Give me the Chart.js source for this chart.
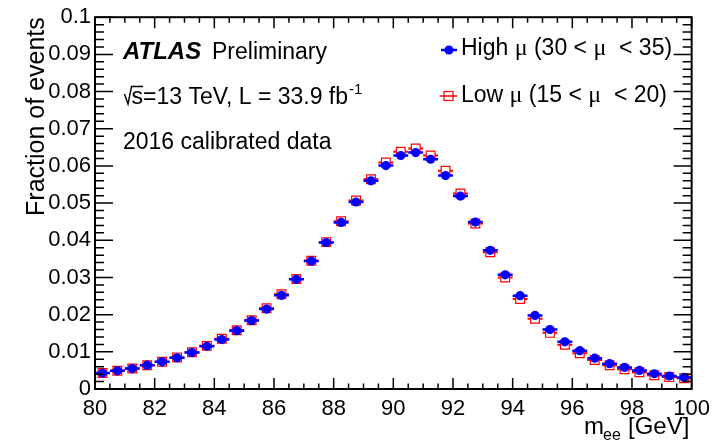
<!DOCTYPE html>
<html lang="en">
  <head>
    <meta charset="UTF-8" />
    <title>Z peak: high vs low pile-up</title>
    <script src="https://cdn.jsdelivr.net/npm/chart.js"></script>
    <style>
      html, body { margin: 0; padding: 0; background: #ffffff; }
      #wrap { width: 717px; height: 442px; position: relative; }
    </style>
  </head>
  <body>
    <div id="wrap">
      <canvas id="zeeChart" width="717" height="442"></canvas>
    </div>

    <script>
      // bin centres of the m_ee histogram [GeV], 0.5 GeV wide bins
      const massBins = [
        80.25, 80.75, 81.25, 81.75, 82.25, 82.75, 83.25, 83.75, 84.25, 84.75,
        85.25, 85.75, 86.25, 86.75, 87.25, 87.75, 88.25, 88.75, 89.25, 89.75,
        90.25, 90.75, 91.25, 91.75, 92.25, 92.75, 93.25, 93.75, 94.25, 94.75,
        95.25, 95.75, 96.25, 96.75, 97.25, 97.75, 98.25, 98.75, 99.25, 99.75,
      ];
      const binHalfWidth = 0.25;

      // High mu (30 < mu < 35)
      const highMu = [
        0.0043, 0.0049, 0.0055, 0.0064, 0.0073, 0.0084, 0.0098, 0.0115, 0.0133, 0.0157,
        0.0184, 0.0215, 0.0252, 0.0295, 0.0344, 0.0394, 0.0448, 0.0503, 0.0560, 0.0601,
        0.0628, 0.0636, 0.0618, 0.0574, 0.0519, 0.0449, 0.0373, 0.0307, 0.0251, 0.0198,
        0.0160, 0.0127, 0.0103, 0.0083, 0.0068, 0.0058, 0.0050, 0.0041, 0.0035, 0.0031,
      ];

      // Low mu (15 < mu < 20)
      const lowMu = [
        0.0043, 0.0049, 0.0055, 0.0064, 0.0073, 0.0085, 0.0099, 0.0116, 0.0135, 0.0158,
        0.0185, 0.0217, 0.0255, 0.0296, 0.0345, 0.0395, 0.0451, 0.0507, 0.0564, 0.0609,
        0.0638, 0.0647, 0.0628, 0.0587, 0.0526, 0.0445, 0.0368, 0.0300, 0.0242, 0.0189,
        0.0151, 0.0119, 0.0096, 0.0078, 0.0064, 0.0053, 0.0045, 0.0037, 0.0032, 0.0029,
      ];

      const xRange = [80, 100];
      const yRange = [0, 0.1];
      const xStep = 2;
      const yStep = 0.01;

      const BLUE = "#0000ff";
      const RED = "#ff0000";
      const SANS = "'Liberation Sans', Arial, Helvetica, sans-serif";
      const SERIF = "'Liberation Serif', 'Times New Roman', serif";

      function toPoints(ys) {
        return massBins.map((x, i) => ({ x: x, y: ys[i] }));
      }

      function drawBars(chart, ys, color, width) {
        const ctx = chart.ctx;
        const xs = chart.scales.x, sy = chart.scales.y;
        ctx.save();
        ctx.strokeStyle = color;
        ctx.lineWidth = width;
        ctx.beginPath();
        massBins.forEach((m, i) => {
          const py = sy.getPixelForValue(ys[i]);
          ctx.moveTo(xs.getPixelForValue(m - binHalfWidth), py);
          ctx.lineTo(xs.getPixelForValue(m + binHalfWidth), py);
        });
        ctx.stroke();
        ctx.restore();
      }

      // draws a run of text pieces one after another, returns end x
      function drawRuns(ctx, runs, x, y) {
        runs.forEach((r) => {
          ctx.font = r.font;
          ctx.fillText(r.t, x, y + (r.dy || 0));
          x += ctx.measureText(r.t).width;
        });
        return x;
      }

      const errorBars = {
        id: "errorBars",
        beforeDatasetDraw(chart, args) {
          if (args.index === 1) drawBars(chart, lowMu, RED, 2);
        },
        afterDatasetDraw(chart, args) {
          // blue bars sit above the red squares but below the blue dots
          if (args.index === 1) drawBars(chart, highMu, BLUE, 2.5);
        },
      };

      const frameAndText = {
        id: "frameAndText",
        afterDraw(chart) {
          const ctx = chart.ctx;
          const ca = chart.chartArea;
          const xs = chart.scales.x, sy = chart.scales.y;
          ctx.save();

          // frame
          ctx.strokeStyle = "#000";
          ctx.lineWidth = 2;
          ctx.strokeRect(ca.left, ca.top, ca.right - ca.left, ca.bottom - ca.top);

          // inward ticks on all four sides
          ctx.lineWidth = 1.5;
          ctx.beginPath();
          for (let i = 0; i <= 40; i++) {
            const px = xs.getPixelForValue(xRange[0] + i * 0.5);
            const len = i % 4 === 0 ? 11 : 5.5;
            ctx.moveTo(px, ca.bottom); ctx.lineTo(px, ca.bottom - len);
            ctx.moveTo(px, ca.top); ctx.lineTo(px, ca.top + len);
          }
          for (let i = 0; i <= 50; i++) {
            const py = sy.getPixelForValue(yRange[0] + i * 0.002);
            const len = i % 5 === 0 ? 18 : 9;
            ctx.moveTo(ca.left, py); ctx.lineTo(ca.left + len, py);
            ctx.moveTo(ca.right, py); ctx.lineTo(ca.right - len, py);
          }
          ctx.stroke();

          ctx.fillStyle = "#000";
          ctx.textAlign = "left";
          ctx.textBaseline = "alphabetic";

          // ATLAS label block
          ctx.font = "italic bold 24px " + SANS;
          ctx.fillText("ATLAS", 123, 59);
          ctx.font = "23px " + SANS;
          ctx.fillText("Preliminary", 212, 59);

          // sqrt sign drawn as a radical over the s
          ctx.lineWidth = 1.4;
          ctx.beginPath();
          ctx.moveTo(124.5, 94);
          ctx.lineTo(128, 104);
          ctx.lineTo(131.5, 86.5);
          ctx.lineTo(143, 86.5);
          ctx.stroke();
          let ex = drawRuns(ctx, [
            { t: "s=13 TeV, L = 33.9 fb", font: "23px " + SANS },
          ], 131.5, 104);
          drawRuns(ctx, [{ t: "-1", font: "15px " + SANS, dy: -10 }], ex + 1, 104);

          ctx.font = "23px " + SANS;
          ctx.fillText("2016 calibrated data", 123, 149);

          // legend
          ctx.strokeStyle = BLUE;
          ctx.lineWidth = 2.5;
          ctx.beginPath();
          ctx.moveTo(441, 50); ctx.lineTo(457, 50);
          ctx.stroke();
          ctx.fillStyle = BLUE;
          ctx.beginPath();
          ctx.arc(449, 50, 4.5, 0, Math.PI * 2);
          ctx.fill();

          ctx.fillStyle = "#fff";
          ctx.fillRect(444, 91.5, 9, 9);
          ctx.strokeStyle = RED;
          ctx.lineWidth = 1.2;
          ctx.strokeRect(444, 91.5, 9, 9);
          ctx.lineWidth = 1.5;
          ctx.beginPath();
          ctx.moveTo(440, 96); ctx.lineTo(457, 96);
          ctx.stroke();

          ctx.fillStyle = "#000";
          const lg = "23px " + SANS, mu = "24px " + SERIF;
          drawRuns(ctx, [
            { t: "High ", font: lg }, { t: "\u03bc", font: mu },
            { t: " (30 < ", font: lg }, { t: "\u03bc", font: mu },
            { t: "  < 35)", font: lg },
          ], 461, 55);
          drawRuns(ctx, [
            { t: "Low ", font: lg }, { t: "\u03bc", font: mu },
            { t: " (15 < ", font: lg }, { t: "\u03bc", font: mu },
            { t: "  < 20)", font: lg },
          ], 461, 102);

          // axis titles
          ctx.font = "24px " + SANS;
          ctx.fillText("m", 584, 434);
          ctx.font = "16px " + SANS;
          ctx.fillText("ee", 603, 440);
          ctx.font = "24px " + SANS;
          ctx.fillText("[GeV]", 628, 434);

          ctx.save();
          ctx.translate(43.5, ca.top);
          ctx.rotate(-Math.PI / 2);
          ctx.textAlign = "right";
          ctx.font = "25px " + SANS;
          ctx.fillText("Fraction of events", 0, 0);
          ctx.restore();

          ctx.restore();
        },
      };

      const ctx = document.getElementById("zeeChart").getContext("2d");
      new Chart(ctx, {
        type: "scatter",
        data: {
          datasets: [
            {
              label: "High \u03bc (30 < \u03bc < 35)",
              data: toPoints(highMu),
              pointStyle: "circle",
              pointRadius: 4.6,
              pointHoverRadius: 4.6,
              backgroundColor: BLUE,
              borderColor: BLUE,
              borderWidth: 0,
              order: 1,
            },
            {
              label: "Low \u03bc (15 < \u03bc < 20)",
              data: toPoints(lowMu),
              pointStyle: "rect",
              pointRadius: 6.2,
              pointHoverRadius: 6.2,
              backgroundColor: "#ffffff",
              borderColor: RED,
              borderWidth: 1.2,
              order: 2,
            },
          ],
        },
        options: {
          responsive: false,
          animation: false,
          devicePixelRatio: 1,
          layout: { padding: { top: 13, right: 22, left: 0, bottom: 0 } },
          plugins: {
            legend: { display: false },
            tooltip: { enabled: false },
          },
          scales: {
            x: {
              type: "linear",
              min: xRange[0],
              max: xRange[1],
              grid: { display: false, drawTicks: false },
              border: { display: false },
              ticks: {
                stepSize: xStep,
                autoSkip: false,
                maxRotation: 0,
                padding: 7,
                color: "#000",
                font: { family: SANS, size: 22 },
              },
              afterFit(s) { s.height = 53; },
            },
            y: {
              min: yRange[0],
              max: yRange[1],
              grid: { display: false, drawTicks: false },
              border: { display: false },
              ticks: {
                stepSize: yStep,
                autoSkip: false,
                padding: 4,
                color: "#000",
                font: { family: SANS, size: 22 },
                callback: (v) => String(parseFloat(v.toFixed(3))),
              },
              afterFit(s) { s.width = 95; },
            },
          },
        },
        plugins: [errorBars, frameAndText],
      });
    </script>
  </body>
</html>
